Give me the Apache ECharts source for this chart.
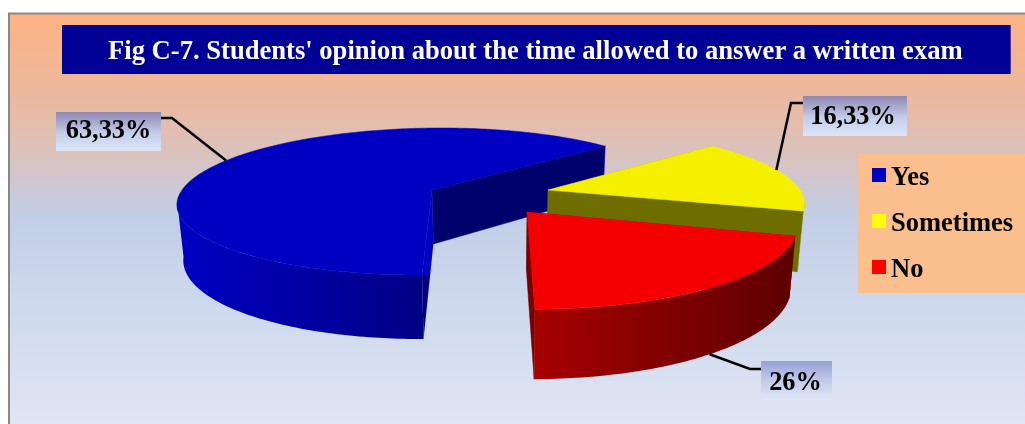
<!DOCTYPE html>
<html>
<head>
<meta charset="utf-8">
<style>html,body{margin:0;padding:0;background:#fff}#c{width:1025px;height:424px}</style>
<script src="https://cdn.jsdelivr.net/npm/echarts@6/dist/echarts.min.js"></script>
</head>
<body>
<div id="c"></div>
<script>
var titleText = "Fig C-7. Students' opinion about the time allowed to answer a written exam";
var categories = ['Yes', 'Sometimes', 'No'];
// Printed labels, exactly as in the picture.
var labelTexts = ['63,33%', '16,33%', '26%'];
// Shares the wedges are actually drawn with (the "No" wedge is visibly about 20,33 of 100, not 26).
var drawnShares = [63.33, 16.33, 20.33];
var topColors = ['#0000C2', '#F4F000', '#F40000'];
var legendColors = ['#0000C0', '#FFFF00', '#FF0000'];
var edgeColors = ['#00006C', '#6E6E00', '#7A0000'];
var rimFrom = ['#0000C4', '#8A8A00', '#A80000'];
var rimTo = ['#000084', '#6A6A00', '#5C0000'];

// Layout of the tilted, exploded view (not data).
var vanishX = 500, depthK = 0.1565, shrinkZ = 0.02, firstAngle = 42.5;
var views = [
  {ax: 432, ay: 190, rx: 250, ry: 71.7, h: 54},
  {ax: 548, ay: 190, rx: 252, ry: 71.7, h: 58},
  {ax: 527, ay: 212, rx: 266, ry: 82, h: 59}
];
var labelBoxes = [
  {x: 56, y: 112, w: 105, h: 39, dx: 0, dy: 1, top: '#8F86B2', bottom: '#DCE5F8', angle: 154, z: 0, elbow: [172, 118], join: [161, 118]},
  {x: 803, y: 96, w: 104, h: 40, dx: -2, dy: 2, top: '#8F86B2', bottom: '#DCE5F8', angle: 17, z: 0, elbow: [791, 103], join: [803, 103]},
  {x: 761, y: 361, w: 71, h: 39, dx: -1, dy: 4, top: '#98A0D6', bottom: '#DFE6F6', angle: 307, z: 1, elbow: [750, 369], join: [761, 369]}
];

var total = drawnShares.reduce(function (a, b) { return a + b; }, 0);
// Slices run anticlockwise in plan: Yes, then No, then Sometimes.
var spans = {};
(function () {
  var a = firstAngle;
  [0, 2, 1].forEach(function (i) {
    var sweep = drawnShares[i] / total * 360;
    spans[i] = [a, a + sweep];
    a += sweep;
  });
})();

function project(v, X, Y, Z) {
  var w = 1 - depthK * Y;
  return [
    vanishX + (v.ax - vanishX + v.rx * X) / (w * (1 + shrinkZ * Z)),
    v.ay + (v.ry * Y + v.h * Z) / w
  ];
}
function onRim(v, deg, Z) {
  var r = deg * Math.PI / 180;
  return project(v, Math.cos(r), -Math.sin(r), Z);
}
function arc(v, a, b, Z) {
  var pts = [], n = Math.max(2, Math.ceil(Math.abs(b - a)));
  for (var i = 0; i <= n; i++) pts.push(onRim(v, a + (b - a) * i / n, Z));
  return pts;
}
function poly(points, fill, stroke) {
  return {type: 'polygon', shape: {points: points}, style: {fill: fill, stroke: stroke || fill, lineWidth: 0.5}};
}

function renderSlice(params, api) {
  var i = params.seriesIndex, v = views[i];
  var a = spans[i][0], b = spans[i][1];
  var apex = project(v, 0, 0, 0), apexLow = project(v, 0, 0, 1);
  var kids = [];
  kids.push(poly([apex, onRim(v, a, 0), onRim(v, a, 1), apexLow], edgeColors[i]));
  // The far cut of "Yes" is seen edge-on: bright beside the top face, dark beside the rim.
  var farFill = i === 0 ? new echarts.graphic.LinearGradient(0, 0, 0, 1, [
    {offset: 0, color: topColors[0]}, {offset: 0.57, color: topColors[0]},
    {offset: 0.57, color: rimTo[0]}, {offset: 1, color: rimTo[0]}
  ]) : edgeColors[i];
  kids.push(poly([apex, onRim(v, b, 0), onRim(v, b, 1), apexLow], farFill, 'none'));
  // Outer wall: only the part of the rim that faces the viewer, silhouette to silhouette.
  var from = Math.max(a, 189), to = Math.min(b, 351);
  if (to > from) {
    var top = arc(v, from, to, 0), low = arc(v, to, from, 1);
    var grad = new echarts.graphic.LinearGradient(0, 0, 1, 0, [
      {offset: 0, color: rimFrom[i]}, {offset: 1, color: rimTo[i]}
    ]);
    kids.push(poly(top.concat(low), grad, 'none'));
  }
  kids.push(poly([apex].concat(arc(v, a, b, 0)), topColors[i]));
  return {type: 'group', children: kids};
}

function renderLabel(params, api) {
  var i = api.value(0), box = labelBoxes[i], v = views[i];
  return {type: 'group', children: [
    {type: 'polyline', shape: {points: [onRim(v, box.angle, box.z), box.elbow, box.join]},
     style: {stroke: '#000', lineWidth: 2.5, fill: 'none'}},
    {type: 'rect', shape: {x: box.x, y: box.y, width: box.w, height: box.h},
     style: {fill: new echarts.graphic.LinearGradient(0, 0, 0, 1, [
       {offset: 0, color: box.top}, {offset: 0.55, color: '#C4CEEA'}, {offset: 1, color: box.bottom}])}},
    {type: 'text', style: {text: labelTexts[i], x: box.x + box.w / 2 + box.dx, y: box.y + box.h / 2 - 1 + box.dy,
      align: 'center', verticalAlign: 'middle', fill: '#000',
      font: 'bold 26.3px "Liberation Serif"'}}
  ]};
}

var series = categories.map(function (name, i) {
  return {
    type: 'custom', name: name, coordinateSystem: 'none', z: 2 + i,
    itemStyle: {color: legendColors[i]},
    renderItem: renderSlice, data: [[drawnShares[i]]], silent: true
  };
});
series.push({
  type: 'custom', name: 'labels', coordinateSystem: 'none', z: 6, silent: true,
  renderItem: renderLabel, data: categories.map(function (c, i) { return [i]; })
});

var legendFamily = '"Liberation Serif"';
var chart = echarts.init(document.getElementById('c'), null, {renderer: 'canvas'});
chart.setOption({
  animation: false,
  backgroundColor: '#fff',
  title: {
    text: titleText, left: 62, top: 25, padding: [14, 48, 8, 46], backgroundColor: '#000096',
    textStyle: {color: '#fff', fontFamily: '"Liberation Serif"', fontWeight: 'bold', fontSize: 26.6, lineHeight: 27}
  },
  legend: {
    orient: 'vertical', left: 858, top: 154, padding: [11, 12, 9, 14], itemGap: 19,
    itemWidth: 14, itemHeight: 14, icon: 'rect', backgroundColor: '#FBBE8D', selectedMode: false,
    data: categories.map(function (c, i) {
      return {name: c, itemStyle: {color: legendColors[i]}};
    }),
    formatter: '{t|{name}}',
    textStyle: {
      color: '#000', fontFamily: legendFamily, fontWeight: 'bold', fontSize: 26.5,
      rich: {t: {color: '#000', fontFamily: legendFamily, fontWeight: 'bold', fontSize: 26.5, padding: [7, 0, 0, 0]}}
    }
  },
  graphic: [{
    type: 'rect', z: -1, silent: true,
    shape: {x: 9, y: 13.5, width: 1040, height: 430},
    style: {
      stroke: '#888', lineWidth: 2,
      fill: new echarts.graphic.LinearGradient(0, 0, 0, 1, [
        {offset: 0, color: '#FEB282'},
        {offset: 0.2, color: '#EBB99F'},
        {offset: 0.33, color: '#DAC2BE'},
        {offset: 0.47, color: '#C2CEE6'},
        {offset: 0.7, color: '#CFDAEE'},
        {offset: 1, color: '#E2E8F5'}
      ])
    }
  }],
  series: series
});
</script>
</body>
</html>
